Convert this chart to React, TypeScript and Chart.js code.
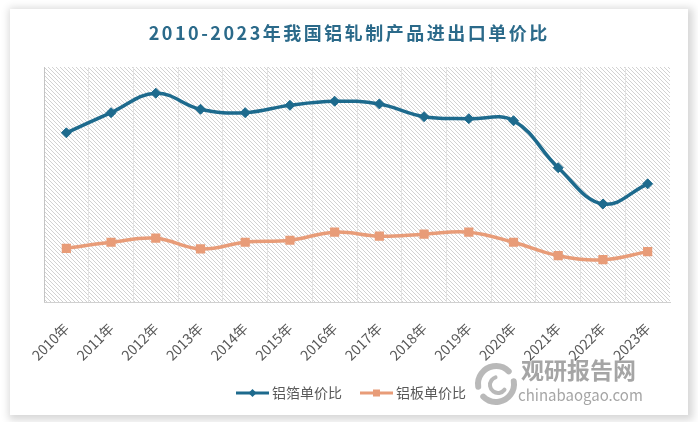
import React, { useEffect, useRef } from "react";
import { Chart, registerables } from "chart.js";

Chart.register(...registerables);

const chartTitle = "2010-2023年我国铝轧制产品进出口单价比";
const categories = [
  "2010年", "2011年", "2012年", "2013年", "2014年", "2015年", "2016年",
  "2017年", "2018年", "2019年", "2020年", "2021年", "2022年", "2023年",
];
const seriesNames = ["铝箔单价比", "铝板单价比"];
const foilRatio = [2.52, 2.82, 3.11, 2.87, 2.82, 2.93, 2.99, 2.95, 2.76, 2.73, 2.70, 2.00, 1.46, 1.76];
const plateRatio = [0.80, 0.89, 0.95, 0.79, 0.89, 0.92, 1.04, 0.98, 1.01, 1.04, 0.89, 0.69, 0.63, 0.75];
const yMin = 0;
const yMax = 3.5;
const watermarkCn = "观研报告网";
const watermarkEn = "chinabaogao.com";

const FONT = '"Noto Sans CJK SC", "Noto Sans", sans-serif';
const BLUE = "#1d6a8d";
const ORANGE = "#e89c78";

const decorPlugin = {
  id: "decor",
  beforeDraw(chart: any) {
    const { ctx, chartArea: a } = chart;
    ctx.save();
    const tile = document.createElement("canvas");
    tile.width = 4;
    tile.height = 4;
    const tc = tile.getContext("2d")!;
    tc.fillStyle = "#d2d2d2";
    for (let i = 0; i < 4; i++) tc.fillRect(i, i, 1, 1);
    const pat = ctx.createPattern(tile, "repeat");
    if (pat) {
      ctx.fillStyle = pat;
      ctx.fillRect(a.left, a.top, a.right - a.left, a.bottom - a.top);
    }
    ctx.restore();
  },
  afterDraw(chart: any) {
    const { ctx } = chart;
    ctx.save();
    // title
    ctx.font = `bold 18px ${FONT}`;
    (ctx as any).letterSpacing = "2.5px";
    const tw = ctx.measureText(chartTitle).width - 2.5;
    ctx.fillStyle = "#2b6a8a";
    ctx.textAlign = "left";
    ctx.textBaseline = "middle";
    ctx.fillText(chartTitle, 338 - tw / 2, 24);
    (ctx as any).letterSpacing = "0px";

    // legend
    const ly = 384;
    const items = [
      { x0: 226, color: BLUE, style: "diamond", label: chart.data.datasets[0].label },
      { x0: 350, color: ORANGE, style: "square", label: chart.data.datasets[1].label },
    ];
    ctx.font = `14px ${FONT}`;
    for (const it of items) {
      ctx.strokeStyle = it.color;
      ctx.lineWidth = 3;
      ctx.beginPath();
      ctx.moveTo(it.x0, ly);
      ctx.lineTo(it.x0 + 33, ly);
      ctx.stroke();
      const cx = it.x0 + 16.5;
      ctx.fillStyle = it.color;
      if (it.style === "diamond") {
        ctx.beginPath();
        ctx.moveTo(cx - 4, ly);
        ctx.lineTo(cx, ly - 4);
        ctx.lineTo(cx + 4, ly);
        ctx.lineTo(cx, ly + 4);
        ctx.closePath();
        ctx.fill();
      } else {
        ctx.fillRect(cx - 3.5, ly - 3.5, 7, 7);
      }
      ctx.fillStyle = "#595959";
      ctx.textAlign = "left";
      ctx.textBaseline = "middle";
      ctx.fillText(it.label, it.x0 + 36, ly);
    }

    // watermark
    ctx.globalAlpha = 0.8;
    ctx.strokeStyle = "#a8a8a8";
    ctx.lineCap = "round";
    ctx.lineWidth = 6;
    ctx.beginPath();
    ctx.arc(486, 375, 18, Math.PI * 0.95, Math.PI * 1.75);
    ctx.stroke();
    ctx.beginPath();
    ctx.arc(486, 375, 18, Math.PI * 1.95, Math.PI * 0.75);
    ctx.stroke();
    ctx.lineWidth = 4;
    ctx.beginPath();
    ctx.arc(488, 376, 8, Math.PI * 0.2, Math.PI * 1.4);
    ctx.stroke();
    ctx.fillStyle = "#8f8f8f";
    ctx.font = `bold 23px ${FONT}`;
    ctx.textAlign = "left";
    ctx.textBaseline = "middle";
    ctx.fillText(watermarkCn, 511, 361);
    ctx.font = `15px ${FONT}`;
    ctx.fillText(watermarkEn, 508, 386);
    ctx.restore();
  },
};

export default function App() {
  const ref = useRef<HTMLCanvasElement | null>(null);

  useEffect(() => {
    document.body.style.margin = "0";
    document.body.style.background = "#ffffff";
    const canvas = ref.current;
    if (!canvas) return;
    const chart = new Chart(canvas, {
      type: "line",
      data: {
        labels: categories,
        datasets: [
          {
            label: seriesNames[0],
            data: foilRatio,
            borderColor: BLUE,
            backgroundColor: BLUE,
            borderWidth: 3.5,
            pointStyle: "rectRot",
            pointRadius: 5,
            pointBorderWidth: 1,
            pointBackgroundColor: BLUE,
            pointBorderColor: BLUE,
            tension: 0.4,
            fill: false,
          },
          {
            label: seriesNames[1],
            data: plateRatio,
            borderColor: ORANGE,
            backgroundColor: ORANGE,
            borderWidth: 3.5,
            pointStyle: "rect",
            pointRadius: 6.5,
            pointBorderWidth: 0,
            pointBackgroundColor: ORANGE,
            pointBorderColor: ORANGE,
            tension: 0.4,
            fill: false,
          },
        ],
      },
      options: {
        responsive: false,
        maintainAspectRatio: false,
        animation: false,
        layout: { padding: { left: 34, right: 18, top: 58, bottom: 53 } },
        plugins: {
          legend: { display: false },
          title: { display: false },
          tooltip: { enabled: false },
        },
        scales: {
          x: {
            offset: true,
            grid: {
              offset: true,
              drawTicks: false,
              lineWidth: 1,
              color: (c: any) =>
                c.index === 0 ? "#c4c4c4" : c.index === undefined ? "rgba(0,0,0,0)" : "#e2e2e2",
            },
            border: { display: true, color: "#d0d0d0", width: 1 },
            ticks: {
              minRotation: 45,
              maxRotation: 45,
              padding: 18,
              color: "#595959",
              font: { size: 14, family: FONT },
              autoSkip: false,
            },
            afterFit: (s: any) => {
              s.height = 60;
            },
          },
          y: { display: false, min: yMin, max: yMax },
        },
      },
      plugins: [decorPlugin],
    });
    return () => chart.destroy();
  }, []);

  return (
    <div style={{ position: "relative", width: 698, height: 422, background: "#ffffff", overflow: "hidden" }}>
      <div
        style={{
          position: "absolute",
          left: 10,
          top: 9,
          width: 678,
          height: 406,
          background: "#ffffff",
          boxShadow: "2px 2px 8px 3px rgba(0,0,0,0.16)",
        }}
      >
        <canvas ref={ref} width={678} height={406} style={{ display: "block" }} />
      </div>
    </div>
  );
}
